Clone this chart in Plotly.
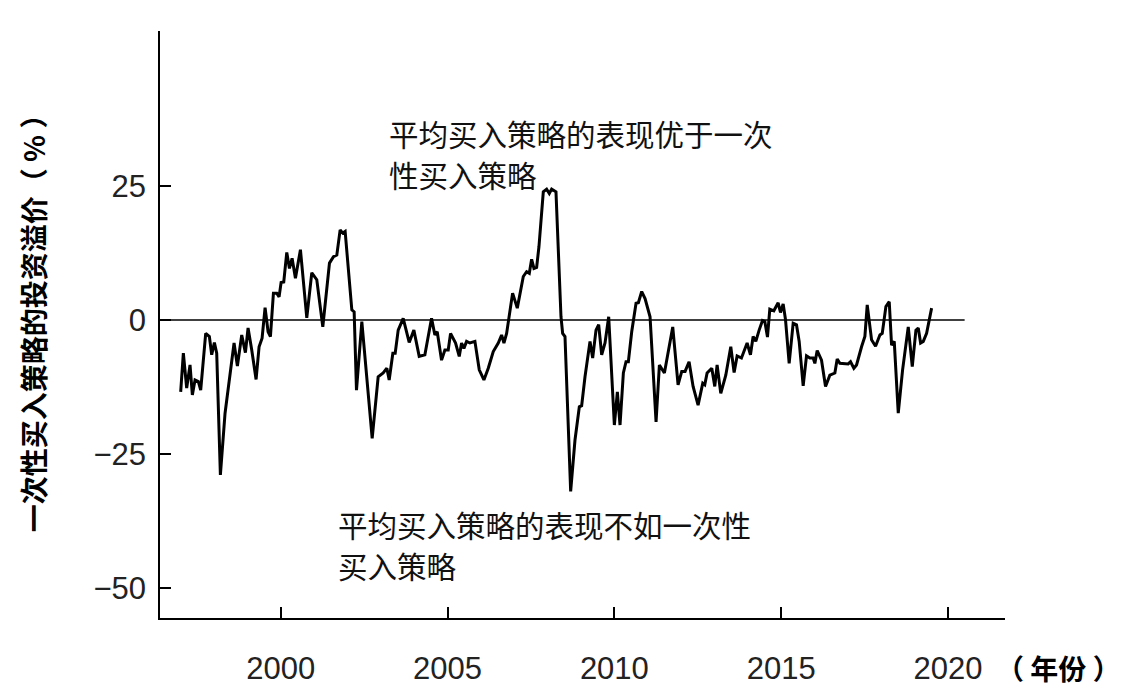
import plotly.graph_objects as go

# 一次性买入 vs 平均买入：投资溢价（%），按月读数
years = [
    1997.00, 1997.08, 1997.18, 1997.28, 1997.35, 1997.43, 1997.53, 1997.60, 1997.75, 1997.86,
    1997.93, 1998.01, 1998.08, 1998.19, 1998.33, 1998.48, 1998.60, 1998.70, 1998.83, 1998.94,
    1999.02, 1999.13, 1999.26, 1999.35, 1999.44, 1999.53, 1999.62, 1999.69, 1999.78, 1999.88,
    1999.95, 2000.01, 2000.09, 2000.18, 2000.26, 2000.34, 2000.44, 2000.59, 2000.78, 2000.93,
    2001.08, 2001.26, 2001.46, 2001.58, 2001.68, 2001.78, 2001.86, 2001.93, 2002.13, 2002.20,
    2002.27, 2002.43, 2002.74, 2002.92, 2003.07, 2003.18, 2003.25, 2003.36, 2003.43, 2003.52,
    2003.67, 2003.85, 2003.99, 2004.15, 2004.32, 2004.42, 2004.52, 2004.62, 2004.69, 2004.82,
    2004.92, 2005.02, 2005.09, 2005.24, 2005.35, 2005.42, 2005.49, 2005.57, 2005.67, 2005.82,
    2005.95, 2006.09, 2006.22, 2006.37, 2006.52, 2006.62, 2006.69, 2006.77, 2006.95, 2007.09,
    2007.27, 2007.37, 2007.45, 2007.52, 2007.59, 2007.67, 2007.74, 2007.87, 2007.97, 2008.05,
    2008.12, 2008.25, 2008.32, 2008.40, 2008.45, 2008.52, 2008.69, 2008.82, 2008.95, 2009.02,
    2009.12, 2009.27, 2009.35, 2009.45, 2009.53, 2009.62, 2009.72, 2009.83, 2010.00, 2010.09,
    2010.17, 2010.27, 2010.35, 2010.42, 2010.52, 2010.65, 2010.72, 2010.82, 2010.92, 2011.07,
    2011.25, 2011.35, 2011.50, 2011.75, 2011.91, 2012.02, 2012.12, 2012.24, 2012.36, 2012.51,
    2012.65, 2012.71, 2012.78, 2012.92, 2013.01, 2013.08, 2013.19, 2013.34, 2013.49, 2013.59,
    2013.68, 2013.81, 2013.98, 2014.08, 2014.16, 2014.24, 2014.34, 2014.44, 2014.51, 2014.59,
    2014.66, 2014.78, 2014.91, 2014.98, 2015.06, 2015.13, 2015.24, 2015.36, 2015.46, 2015.54,
    2015.66, 2015.76, 2015.86, 2015.96, 2016.01, 2016.08, 2016.21, 2016.33, 2016.46, 2016.61,
    2016.68, 2016.76, 2017.01, 2017.08, 2017.18, 2017.26, 2017.41, 2017.51, 2017.58, 2017.71,
    2017.83, 2017.96, 2018.03, 2018.14, 2018.24, 2018.31, 2018.39, 2018.51, 2018.64, 2018.81,
    2018.93, 2019.04, 2019.11, 2019.18, 2019.26, 2019.36, 2019.51,
]
premium = [
    -13.4, -6.2, -12.7, -8.4, -14.0, -11.2, -11.5, -13.1, -2.5, -3.1,
    -6.5, -4.2, -6.2, -28.9, -17.4, -9.9, -4.3, -8.6, -2.8, -6.1,
    -1.5, -5.6, -11.1, -5.0, -3.4, 2.3, -2.2, -3.1, 5.0, 5.0,
    4.3, 7.0, 7.1, 12.6, 9.6, 11.5, 7.8, 13.1, 0.4, 8.8,
    7.5, -1.3, 10.6, 11.8, 12.1, 16.8, 16.2, 16.5, 1.9, 1.5,
    -13.1, -0.3, -22.1, -10.6, -9.9, -9.0, -11.2, -6.2, -6.2, -1.9,
    0.3, -4.2, -1.9, -6.8, -6.5, -3.1, 0.3, -2.8, -2.2, -7.5,
    -5.6, -5.6, -2.5, -4.3, -6.8, -4.3, -5.3, -4.0, -4.3, -4.0,
    -9.3, -11.2, -9.0, -5.9, -4.3, -2.8, -4.3, -2.5, 5.0, 2.2,
    8.1, 9.0, 8.7, 11.3, 9.6, 9.8, 13.7, 23.9, 24.4, 23.6,
    24.4, 23.9, 13.7, 0.6, -2.5, -3.1, -32.0, -22.4, -16.2, -16.0,
    -10.6, -4.0, -7.1, -1.9, -0.9, -6.5, -4.3, 0.6, -19.6, -13.4,
    -19.6, -9.9, -7.8, -7.8, -2.2, 3.1, 3.2, 5.3, 4.0, 0.6,
    -19.0, -8.4, -9.9, -1.3, -12.1, -9.6, -9.6, -7.8, -12.4, -15.9,
    -11.8, -12.1, -9.9, -9.0, -12.4, -8.4, -13.7, -10.3, -5.0, -9.8,
    -6.7, -7.1, -4.3, -6.5, -3.1, -4.0, -1.9, -0.1, -0.3, -3.2,
    2.0, 1.7, 3.2, 1.4, 3.0, 0.1, -8.1, -0.6, -0.9, -4.0,
    -12.3, -6.7, -7.1, -7.1, -8.1, -5.7, -7.5, -12.4, -10.3, -9.9,
    -7.3, -8.1, -8.2, -7.8, -9.0, -8.4, -5.0, -3.1, 2.8, -3.7,
    -4.9, -2.8, -2.5, 2.5, 3.4, -4.7, -4.0, -17.4, -9.3, -1.3,
    -8.7, -1.9, -1.5, -4.3, -4.0, -2.5, 2.2,
]

x_ticks = [2000, 2005, 2010, 2015, 2020]
y_ticks = [-50, -25, 0, 25]
x_range = [1996.38, 2021.71]
y_range = [-55.6, 53.9]
zero_line_end = 2020.5

num_font = "Liberation Sans, Arial, sans-serif"
cjk_font = "Noto Sans CJK SC, sans-serif"

fig = go.Figure()
fig.add_trace(go.Scatter(
    x=years, y=premium, mode='lines',
    line=dict(color='black', width=3),
    hoverinfo='skip', showlegend=False
))

# zero reference line
fig.add_shape(type='line', x0=x_range[0], x1=zero_line_end, y0=0, y1=0,
              line=dict(color='black', width=1.6))

# page body adds ~8px, so margins are trimmed to keep the plot box in place
fig.update_layout(
    width=1136, height=700,
    margin=dict(l=152, r=139, t=23, b=90),
    paper_bgcolor='white', plot_bgcolor='white',
    xaxis=dict(
        range=x_range, tickvals=x_ticks, ticks='inside', ticklen=11, tickwidth=1.5,
        tickcolor='black', showline=True, linecolor='black', linewidth=1.5,
        showgrid=False, zeroline=False, ticklabelstandoff=22,
        tickfont=dict(family=num_font, size=31, color='#222')
    ),
    yaxis=dict(
        range=y_range, tickvals=y_ticks, ticks='inside', ticklen=11, tickwidth=1.5,
        tickcolor='black', showline=True, linecolor='black', linewidth=1.5,
        showgrid=False, zeroline=False, ticklabelstandoff=6,
        tickfont=dict(family=num_font, size=31, color='#222')
    ),
)

note_font = dict(family=cjk_font, size=29.5, color='#111')
notes = [
    ("平均买入策略的表现优于一次", 2003.17, 34.8),
    ("性买入策略", 2003.17, 27.2),
    ("平均买入策略的表现不如一次性", 2001.65, -38.0),
    ("买入策略", 2001.65, -45.8),
]
for txt, nx, ny in notes:
    fig.add_annotation(text=txt, x=nx, y=ny, xref='x', yref='y',
                       xanchor='left', yanchor='middle', showarrow=False,
                       font=note_font)

# y-axis title
fig.add_annotation(
    text="一次性买入策略的投资溢价（ % ）",
    x=0, xref='paper', xshift=-127, y=0.514, yref='paper',
    xanchor='center', yanchor='middle', textangle=-90, showarrow=False,
    font=dict(family=cjk_font, size=28, color='black', weight='bold')
)
# x-axis unit
fig.add_annotation(
    text="（ 年份 ）",
    x=1, xref='paper', xshift=53, y=0, yref='paper', yshift=-50,
    xanchor='center', yanchor='middle', showarrow=False,
    font=dict(family=cjk_font, size=28, color='black', weight='bold')
)

fig.write_html("out.html")
